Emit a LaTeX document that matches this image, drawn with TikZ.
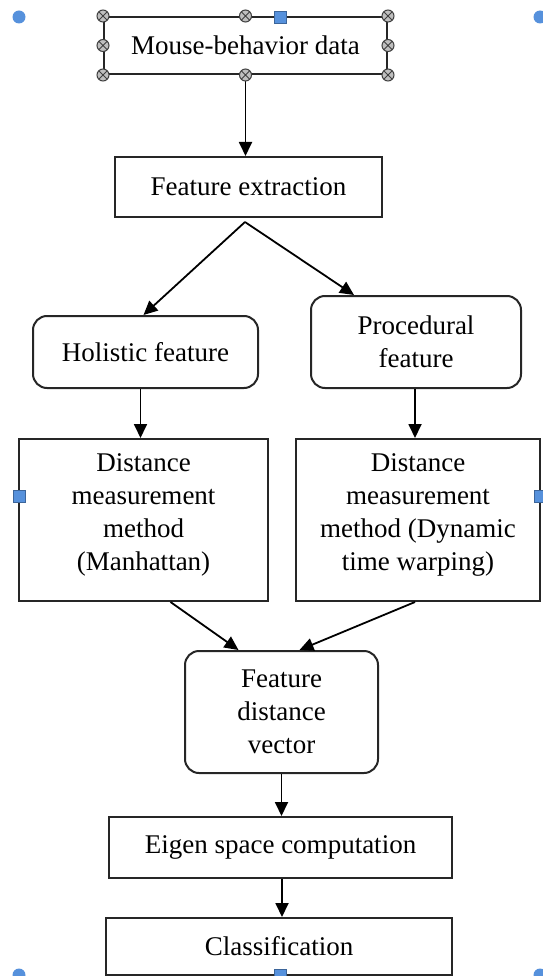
\documentclass[tikz,border=0pt]{standalone}
\usepackage{fontspec}
\setmainfont{Liberation Serif}
\usetikzlibrary{arrows.meta}
\definecolor{hblue}{RGB}{86,145,220}

\begin{document}
\begin{tikzpicture}[x=1pt,y=-1pt,
    bx/.style={rectangle,draw=black!85,line width=2pt,fill=white,inner sep=0pt,
               align=center,font=\fontsize{27}{33}\selectfont},
    rbx/.style={bx,rounded corners=14pt},
    ar/.style={-{Triangle[length=14pt,width=13pt]},black,line width=1.8pt},
    hdot/.style={circle,fill=hblue,inner sep=0pt,minimum size=13pt},
    hsq/.style={rectangle,fill=hblue,draw=hblue!70!black,line width=0.7pt,inner sep=0pt,minimum size=12pt},
    hx/.style={circle,draw=black!75,fill=black!25,line width=1pt,inner sep=0pt,minimum size=12pt,
               path picture={\draw[black!75,line width=1pt]
                 (path picture bounding box.north west)--(path picture bounding box.south east)
                 (path picture bounding box.north east)--(path picture bounding box.south west);}}]
    \useasboundingbox (0,0) rectangle (542,976);
    \node[bx,minimum width=283pt,minimum height=57pt](mouse) at (245.5,45.5){Mouse-behavior data};
    \node[bx,minimum width=267pt,minimum height=60pt](fe) at (248.5,187){Feature extraction};
    \node[rbx,minimum width=225pt,minimum height=72pt](hol) at (145.5,352){Holistic feature};
    \node[rbx,minimum width=210pt,minimum height=92pt](proc) at (416,342){Procedural\\feature};
    \node[bx,minimum width=249pt,minimum height=162pt](dl) at (143.5,520)
        {Distance\\measurement\\method\\(Manhattan)\\[-17pt]};
    \node[bx,minimum width=244pt,minimum height=162pt](dr) at (418,520)
        {Distance\\measurement\\method (Dynamic\\time warping)\\[-17pt]};
    \node[rbx,minimum width=193pt,minimum height=122pt](fdv) at (281.5,712){Feature\\distance\\vector};
    \node[bx,minimum width=343pt,minimum height=61pt](eig) at (280.5,847.5){Eigen space computation};
    \node[bx,minimum width=346pt,minimum height=57pt](cls) at (279,946.5){Classification};
    \coordinate (fork) at (245,222);
    % connectors
    \draw[ar](mouse.south)--(mouse.south|-fe.north);
    \draw[ar](fork)--([xshift=-2pt]hol.north);
    \draw[ar](fork)--([xshift=-62pt]proc.north);
    \draw[ar]([xshift=-5pt]hol.south)--([xshift=-5pt]hol.south|-dl.north);
    \draw[ar]([xshift=-1pt]proc.south)--([xshift=-1pt]proc.south|-dr.north);
    \draw[ar]([xshift=27pt]dl.south)--([xshift=-43pt]fdv.north);
    \draw[ar]([xshift=-3pt]dr.south)--([xshift=18pt]fdv.north);
    \draw[ar](fdv.south)--(fdv.south|-eig.north);
    \draw[ar]([xshift=1.5pt]eig.south)--([xshift=1.5pt]eig.south|-cls.north);
    % selection handles
    \foreach \a [count=\i] in {north west,north,north east,west,east,south west,south,south east}
      \node[hx](mx\i) at (mouse.\a){};
    \foreach \p [count=\i] in {(19,17),(540,17),(19,975),(540,975)}
      \node[hdot](hd\i) at \p{};
    \foreach \p [count=\i] in {(280,17),(280,975),(19,496),(540,496)}
      \node[hsq](hs\i) at \p{};
\end{tikzpicture}
\end{document}
